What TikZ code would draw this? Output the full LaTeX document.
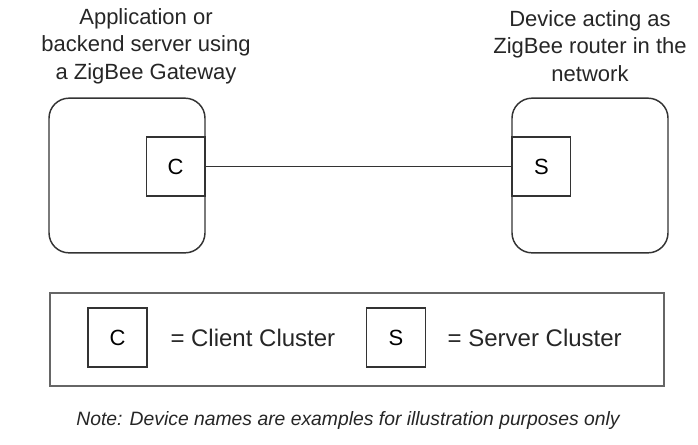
\documentclass[tikz,border=0pt]{standalone}
\usepackage{fontspec}
\setmainfont{Liberation Sans}
\usepackage{tikz}
\usetikzlibrary{
    positioning,
    calc,
}
\definecolor{LineGray}{RGB}{51,51,51}
\definecolor{FrameGray}{RGB}{102,102,102}
\tikzset{
    devicebox/.style={rectangle, rounded corners=15pt, draw=LineGray, line width=1.1pt, minimum width=117pt, minimum height=116pt, inner sep=0pt},
    clusterbox/.style={rectangle, draw=LineGray, line width=1.1pt, fill=white, minimum width=44pt, minimum height=44pt, inner sep=0pt, font=\fontsize{16.5}{19}\selectfont},
    caption/.style={align=center, font=\fontsize{16.5}{20.5}\selectfont, text=black!85, inner sep=0pt},
}

\begin{document}
\begin{tikzpicture}[x=0.75pt, y=-0.75pt]
    \useasboundingbox (0,0) rectangle (698,444);

    % devices
    \node[devicebox] (gateway) at (127,175.5) {};
    \node[devicebox] (router) at (590,175.5) {};
    \node[clusterbox, anchor=east] (client) at ($(gateway.east)+(0,-9)$) {C};
    \node[clusterbox, anchor=west] (server) at ($(router.west)+(0,-9)$) {S};
    \draw[LineGray, line width=1.1pt] (client.east) -- (server.west);

    % captions
    \node[caption] (gatewaytext) at (146,46) {Application or\\backend server using\\a ZigBee Gateway};
    \node[caption] (routertext) at (590,46) {Device acting as\\ZigBee router in the\\network};

    % legend
    \node[rectangle, draw=FrameGray, line width=1.5pt, minimum width=460pt, minimum height=70pt, inner sep=0pt] (legend) at (357,339.5) {};
    \node[clusterbox] (legendC) at (117.5,337.5) {C};
    \node[caption, font=\fontsize{18}{21}\selectfont, anchor=west, right=17pt of legendC] (clienttext) {= Client Cluster};
    \node[clusterbox] (legendS) at (396,337.5) {S};
    \node[caption, font=\fontsize{18}{21}\selectfont, anchor=west, right=16pt of legendS] (servertext) {= Server Cluster};

    % note
    \node[caption, font=\fontsize{14.5}{17}\selectfont\itshape] (note) at (348,420) {Note: Device names are examples for illustration purposes only};
\end{tikzpicture}
\end{document}
